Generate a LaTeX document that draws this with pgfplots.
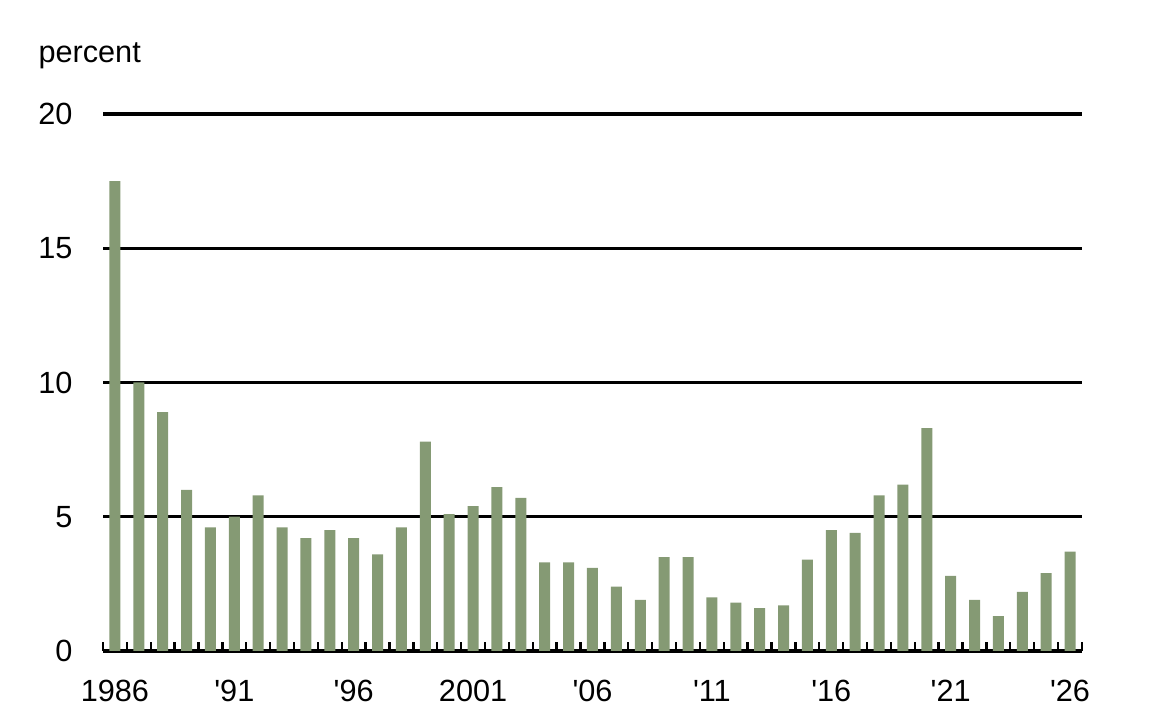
\documentclass[border=0pt]{standalone}
\usepackage{pgfplots}
\pgfplotsset{compat=1.18}
\usepackage{fontspec}
\setmainfont{Liberation Sans}
\definecolor{bargreen}{RGB}{133,154,116}

\begin{document}
\fontsize{11.5}{13.5}\selectfont
\begin{tikzpicture}
    % 1 px of the reference = 0.375pt
    \path[use as bounding box] (0,0) rectangle (433.125pt,270pt);
    \node[anchor=base west, inner sep=0pt] at (14.25pt,246.4pt) {percent};
    \begin{axis}[
            at={(38.625pt,25.875pt)},
            anchor=south west,
            scale only axis,
            width=367.125pt,
            height=201.375pt,
            ybar,
            bar width=4.125pt,
            bar shift=0pt,
            xmin=1985.5, xmax=2026.5,
            ymin=0, ymax=20,
            axis x line*=bottom,
            axis y line*=left,
            x axis line style={line width=1.1pt, -},
            y axis line style={draw=none},
            ytick={0,5,10,15,20},
            ymajorgrids,
            grid style={black, line width=1.2pt},
            major tick length=0pt,
            xtick={1986,1991,...,2026},
            xticklabels={1986,\textquotesingle91,\textquotesingle96,2001,\textquotesingle06,\textquotesingle11,\textquotesingle16,\textquotesingle21,\textquotesingle26},
            minor xtick={1985.5,1986.5,...,2026.5},
            minor tick length=3.4pt,
            tick align=inside,
            minor tick style={black, line width=0.9pt},
            xticklabel style={anchor=north, inner sep=0pt, yshift=-10.6pt, text height=8.2pt, text depth=0pt},
            yticklabel style={anchor=east, inner sep=0pt, xshift=-11.25pt},
            /pgf/number format/assume math mode=true,
            tick label style={font=\fontsize{11.5}{13.5}\selectfont},
        ]
        \addplot[fill=bargreen, draw=none] table {
            x y
            1986 17.5
            1987 10.0
            1988 8.9
            1989 6.0
            1990 4.6
            1991 5.0
            1992 5.8
            1993 4.6
            1994 4.2
            1995 4.5
            1996 4.2
            1997 3.6
            1998 4.6
            1999 7.8
            2000 5.1
            2001 5.4
            2002 6.1
            2003 5.7
            2004 3.3
            2005 3.3
            2006 3.1
            2007 2.4
            2008 1.9
            2009 3.5
            2010 3.5
            2011 2.0
            2012 1.8
            2013 1.6
            2014 1.7
            2015 3.4
            2016 4.5
            2017 4.4
            2018 5.8
            2019 6.2
            2020 8.3
            2021 2.8
            2022 1.9
            2023 1.3
            2024 2.2
            2025 2.9
            2026 3.7
        };
    \end{axis}
\end{tikzpicture}
\end{document}
